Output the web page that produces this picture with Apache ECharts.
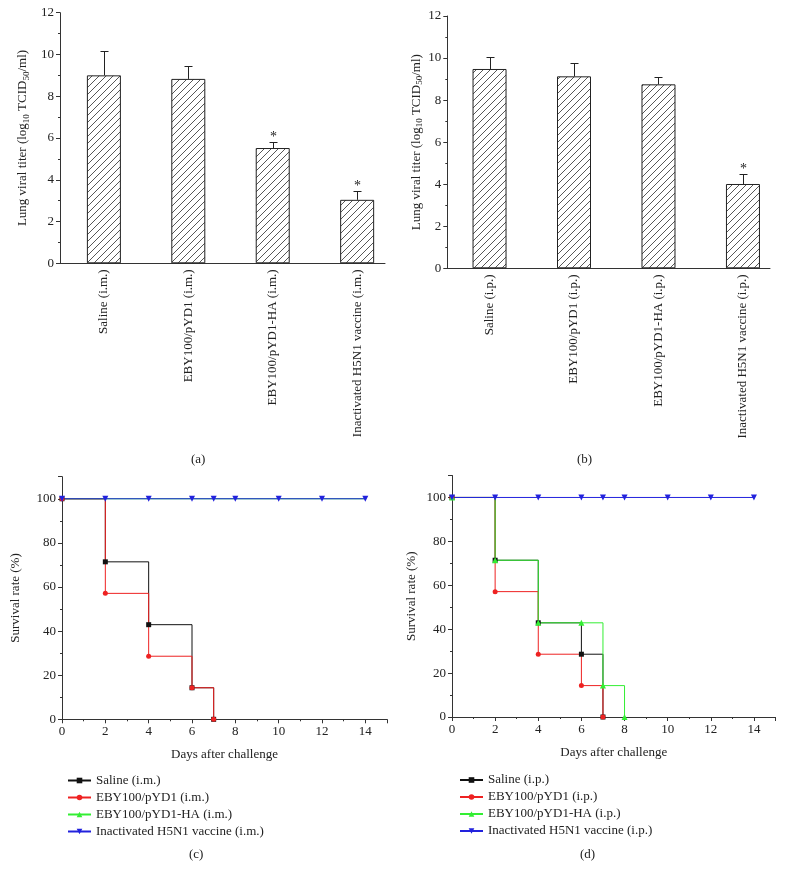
<!DOCTYPE html>
<html><head><meta charset="utf-8">
<script src="https://cdn.jsdelivr.net/npm/echarts@6/dist/echarts.min.js"></script>
<style>html,body{margin:0;padding:0;background:#fff}#c{width:785px;height:880px}</style>
</head><body><div id="c"></div>
<script>
// ---- data ----
const catsA = ['Saline (i.m.)', 'EBY100/pYD1 (i.m.)', 'EBY100/pYD1-HA (i.m.)', 'Inactivated H5N1 vaccine (i.m.)'];
const catsB = ['Saline (i.p.)', 'EBY100/pYD1 (i.p.)', 'EBY100/pYD1-HA (i.p.)', 'Inactivated H5N1 vaccine (i.p.)'];
const titerA = [9.0, 8.83, 5.52, 3.04];
const errA = [1.16, 0.61, 0.27, 0.40];
const sigA = [0, 0, 1, 1];
const titerB = [9.48, 9.13, 8.75, 4.01];
const errB = [0.58, 0.62, 0.33, 0.47];
const sigB = [0, 0, 0, 1];

const daysSalineIM = [0, 2, 4, 6, 7];
const survSalineIM = [100, 71.4, 42.9, 14.3, 0];
const daysPYD1IM = [0, 2, 4, 6, 7];
const survPYD1IM = [100, 57.1, 28.6, 14.3, 0];
const daysHAIM = [0, 2, 4, 6, 7, 8, 10, 12, 14];
const survHAIM = [100, 100, 100, 100, 100, 100, 100, 100, 100];
const daysVacIM = [0, 2, 4, 6, 7, 8, 10, 12, 14];
const survVacIM = [100, 100, 100, 100, 100, 100, 100, 100, 100];

const daysSalineIP = [0, 2, 4, 6, 7];
const survSalineIP = [100, 71.4, 42.9, 28.6, 0];
const daysPYD1IP = [0, 2, 4, 6, 7];
const survPYD1IP = [100, 57.1, 28.6, 14.3, 0];
const daysHAIP = [0, 2, 4, 6, 7, 8];
const survHAIP = [100, 71.4, 42.9, 42.9, 14.3, 0];
const daysVacIP = [0, 2, 4, 6, 7, 8, 10, 12, 14];
const survVacIP = [100, 100, 100, 100, 100, 100, 100, 100, 100];

// ---- styles ----
const FONT = '"Liberation Serif", "DejaVu Serif", serif';
const TXT = { fontFamily: FONT, fontSize: 13, color: '#222' };
const AX = '#333';
const COL = { black: '#111111', red: '#ee2222', green: '#33ee33', blue: '#2222dd' };

function hatch() {
  const c = document.createElement('canvas');
  c.width = 7; c.height = 7;
  const g = c.getContext('2d');
  g.strokeStyle = '#444'; g.lineWidth = 0.9;
  g.beginPath();
  g.moveTo(0, 7); g.lineTo(7, 0);
  g.moveTo(-1, 1); g.lineTo(1, -1);
  g.moveTo(6, 8); g.lineTo(8, 6);
  g.stroke();
  return c;
}
const pattern = { image: hatch(), repeat: 'repeat' };

function pairs(xs, ys) { return xs.map((x, i) => [x, ys[i]]); }

function errRender(params, api) {
  const x = api.value(0), v = api.value(1), e = api.value(2), s = api.value(3);
  const p0 = api.coord([x, v]), p1 = api.coord([x, v + e]);
  const cx = Math.round(p0[0]) + 0.5, ty = Math.round(p1[1]) + 0.5;
  const children = [
    { type: 'line', shape: { x1: cx, y1: p0[1], x2: cx, y2: ty }, style: { stroke: '#222', lineWidth: 1 } },
    { type: 'line', shape: { x1: cx - 4, y1: ty, x2: cx + 4, y2: ty }, style: { stroke: '#222', lineWidth: 1 } }
  ];
  if (s) children.push({ type: 'text', style: { text: '*', x: cx, y: ty + 2, align: 'center', verticalAlign: 'bottom', font: '14px ' + FONT, fill: '#222' } });
  return { type: 'group', children };
}

function barX(gi, min, max, cats) {
  return {
    type: 'value', gridIndex: gi, min: min, max: max,
    axisLine: { show: true, onZero: false, lineStyle: { color: AX, width: 1 } },
    axisTick: { show: false },
    splitLine: { show: false },
    axisLabel: Object.assign({}, TXT, { customValues: [1, 2, 3, 4], rotate: 90, margin: 6, formatter: v => cats[Math.round(v) - 1] || '' })
  };
}
function barY(gi, gap) {
  return {
    type: 'value', gridIndex: gi, min: 0, max: 12, interval: 2,
    name: 'Lung viral titer (log{s|10} TCID{s|50}/ml)', nameLocation: 'middle', nameGap: gap, nameRotate: 90,
    nameTextStyle: Object.assign({}, TXT, { lineHeight: 16, rich: { s: { fontFamily: FONT, fontSize: 9, color: '#222', lineHeight: 10, verticalAlign: 'bottom' } } }),
    axisLine: { show: true, lineStyle: { color: AX, width: 1 } },
    axisTick: { show: true, inside: false, length: 4, lineStyle: { color: AX } },
    minorTick: { show: true, splitNumber: 2, length: 2, lineStyle: { color: AX } },
    splitLine: { show: false }, minorSplitLine: { show: false },
    axisLabel: Object.assign({}, TXT, { margin: 6 })
  };
}
function survX(gi) {
  return {
    type: 'value', gridIndex: gi, min: 0, max: 15, interval: 2,
    name: 'Days after challenge', nameLocation: 'middle', nameGap: 29, nameTextStyle: TXT,
    axisLine: { show: true, onZero: false, lineStyle: { color: AX, width: 1 } },
    axisTick: { show: true, length: 4, lineStyle: { color: AX } },
    minorTick: { show: true, splitNumber: 2, length: 2, lineStyle: { color: AX } },
    splitLine: { show: false }, minorSplitLine: { show: false },
    axisLabel: Object.assign({}, TXT, { margin: 6, showMaxLabel: false })
  };
}
function survY(gi, gap) {
  return {
    type: 'value', gridIndex: gi, min: 0, max: 110, interval: 20,
    name: 'Survival rate (%)', nameLocation: 'middle', nameGap: gap, nameRotate: 90, nameTextStyle: TXT,
    axisLine: { show: true, onZero: false, lineStyle: { color: AX, width: 1 } },
    axisTick: { show: true, length: 4, lineStyle: { color: AX } },
    minorTick: { show: true, splitNumber: 2, length: 2, lineStyle: { color: AX } },
    splitLine: { show: false }, minorSplitLine: { show: false },
    axisLabel: Object.assign({}, TXT, { margin: 6, showMaxLabel: false })
  };
}
const TRI_DOWN = 'path://M0,0 L10,0 L5,9 Z';
function survSeries(gi, name, xs, ys, color, symbol, size, showSym) {
  return {
    type: 'line', name: name, xAxisIndex: gi, yAxisIndex: gi, step: 'end',
    data: pairs(xs, ys), symbol: symbol, symbolSize: size, showSymbol: showSym !== false, showAllSymbol: true,
    lineStyle: { color: color, width: 1 }, itemStyle: { color: color, borderWidth: 0 },
    emphasis: { disabled: true }, animation: false
  };
}

const chart = echarts.init(document.getElementById('c'), null, { renderer: 'canvas' });
const legendStyle = { orient: 'vertical', itemWidth: 23, itemHeight: 7, itemGap: 4, textStyle: TXT, selectedMode: false };

chart.setOption({
  animation: false,
  backgroundColor: '#fff',
  grid: [
    { left: 60, top: 12.7, width: 325, height: 250.6 },
    { left: 447.3, top: 16, width: 322.7, height: 252.3 },
    { left: 62, top: 476.7, width: 325, height: 242.6 },
    { left: 452, top: 475.5, width: 323.5, height: 241.5 }
  ],
  xAxis: [barX(0, 0.48, 4.33, catsA), barX(1, 0.5, 4.32, catsB), survX(2), survX(3)],
  yAxis: [barY(0, 29), barY(1, 21), survY(2, 40), survY(3, 34)],
  legend: [
    Object.assign({ left: 62, top: 769, data: ['Saline (i.m.)', 'EBY100/pYD1 (i.m.)', 'EBY100/pYD1-HA (i.m.)', 'Inactivated H5N1 vaccine (i.m.)'] }, legendStyle),
    Object.assign({ left: 454, top: 768.5, data: ['Saline (i.p.)', 'EBY100/pYD1 (i.p.)', 'EBY100/pYD1-HA (i.p.)', 'Inactivated H5N1 vaccine (i.p.)'] }, legendStyle)
  ],
  graphic: [
    { type: 'text', left: 191, top: 453, style: { text: '(a)', font: '13px ' + FONT, fill: '#222' } },
    { type: 'text', left: 577, top: 453, style: { text: '(b)', font: '13px ' + FONT, fill: '#222' } },
    { type: 'text', left: 189, top: 848, style: { text: '(c)', font: '13px ' + FONT, fill: '#222' } },
    { type: 'text', left: 580, top: 848, style: { text: '(d)', font: '13px ' + FONT, fill: '#222' } }
  ],
  series: [
    { type: 'bar', name: 'titerA', xAxisIndex: 0, yAxisIndex: 0, barWidth: 34, data: pairs([1, 2, 3, 4], titerA),
      itemStyle: { color: pattern, borderColor: '#222', borderWidth: 1 }, emphasis: { disabled: true } },
    { type: 'custom', name: 'errA', xAxisIndex: 0, yAxisIndex: 0, z: 5, renderItem: errRender,
      data: titerA.map((v, i) => [i + 1, v, errA[i], sigA[i]]) },
    { type: 'bar', name: 'titerB', xAxisIndex: 1, yAxisIndex: 1, barWidth: 34, data: pairs([1, 2, 3, 4], titerB),
      itemStyle: { color: pattern, borderColor: '#222', borderWidth: 1 }, emphasis: { disabled: true } },
    { type: 'custom', name: 'errB', xAxisIndex: 1, yAxisIndex: 1, z: 5, renderItem: errRender,
      data: titerB.map((v, i) => [i + 1, v, errB[i], sigB[i]]) },

    survSeries(2, 'Saline (i.m.)', daysSalineIM, survSalineIM, COL.black, 'rect', 5),
    survSeries(2, 'EBY100/pYD1 (i.m.)', daysPYD1IM, survPYD1IM, COL.red, 'circle', 5),
    survSeries(2, 'EBY100/pYD1-HA (i.m.)', daysHAIM, survHAIM, COL.green, 'triangle', 6, false),
    survSeries(2, 'Inactivated H5N1 vaccine (i.m.)', daysVacIM, survVacIM, COL.blue, TRI_DOWN, 6),

    survSeries(3, 'Saline (i.p.)', daysSalineIP, survSalineIP, COL.black, 'rect', 5),
    survSeries(3, 'EBY100/pYD1 (i.p.)', daysPYD1IP, survPYD1IP, COL.red, 'circle', 5),
    survSeries(3, 'EBY100/pYD1-HA (i.p.)', daysHAIP, survHAIP, COL.green, 'triangle', 6),
    survSeries(3, 'Inactivated H5N1 vaccine (i.p.)', daysVacIP, survVacIP, COL.blue, TRI_DOWN, 6)
  ]
});
</script>
</body></html>
